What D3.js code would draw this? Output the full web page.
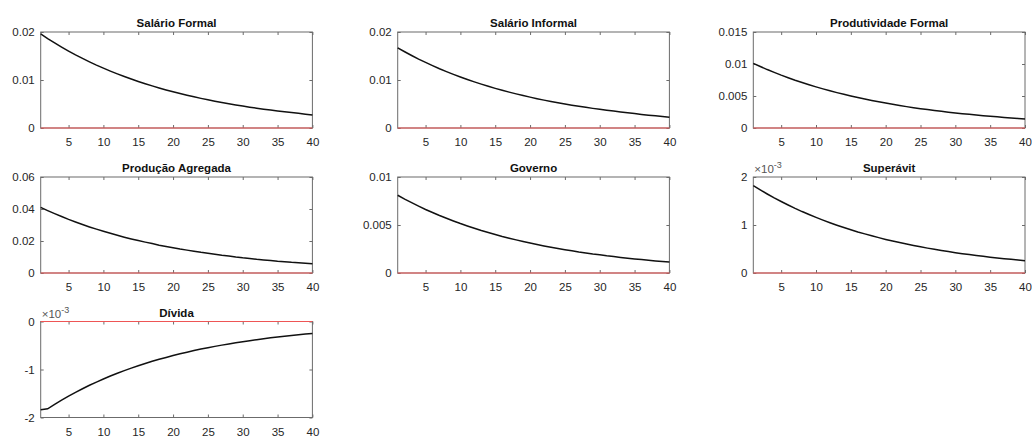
<!DOCTYPE html>
<html>
<head>
<meta charset="utf-8">
<script src="https://cdn.jsdelivr.net/npm/d3@7"></script>
<style>
  html, body { margin: 0; padding: 0; background: #fff; }
  svg { display: block; font-family: "Liberation Sans", Arial, sans-serif; }
</style>
</head>
<body>
<svg id="chart" width="1032" height="438"></svg>
<script>
// horizon 1..40
const periods = d3.range(1, 41);

// impulse responses
const salarioFormal = [0.01960, 0.01864, 0.01773, 0.01686, 0.01603, 0.01524, 0.01450, 0.01379, 0.01311, 0.01247,
  0.01186, 0.01128, 0.01073, 0.01020, 0.00970, 0.00922, 0.00877, 0.00834, 0.00793, 0.00754,
  0.00718, 0.00682, 0.00649, 0.00617, 0.00587, 0.00558, 0.00531, 0.00505, 0.00480, 0.00456,
  0.00434, 0.00413, 0.00393, 0.00373, 0.00355, 0.00338, 0.00321, 0.00305, 0.00288, 0.00270];
const salarioInformal = [0.01670, 0.01588, 0.01510, 0.01436, 0.01366, 0.01299, 0.01235, 0.01175, 0.01117, 0.01062,
  0.01010, 0.00961, 0.00914, 0.00869, 0.00826, 0.00786, 0.00747, 0.00711, 0.00676, 0.00643,
  0.00611, 0.00581, 0.00553, 0.00526, 0.00500, 0.00475, 0.00452, 0.00430, 0.00409, 0.00389,
  0.00370, 0.00352, 0.00335, 0.00318, 0.00300, 0.00283, 0.00268, 0.00253, 0.00238, 0.00225];
const produtividadeFormal = [0.01010, 0.00961, 0.00913, 0.00869, 0.00826, 0.00786, 0.00747, 0.00711, 0.00676, 0.00643,
  0.00611, 0.00581, 0.00553, 0.00526, 0.00500, 0.00475, 0.00452, 0.00430, 0.00409, 0.00389,
  0.00370, 0.00352, 0.00334, 0.00318, 0.00302, 0.00288, 0.00274, 0.00260, 0.00247, 0.00235,
  0.00224, 0.00213, 0.00202, 0.00192, 0.00183, 0.00174, 0.00165, 0.00157, 0.00150, 0.00142];
const producaoAgregada = [0.0410, 0.0390, 0.0371, 0.0353, 0.0335, 0.0319, 0.0303, 0.0288, 0.0274, 0.0261,
  0.0248, 0.0236, 0.0224, 0.0213, 0.0203, 0.0193, 0.0184, 0.0174, 0.0166, 0.0158,
  0.0150, 0.0143, 0.0136, 0.0129, 0.0123, 0.0117, 0.0111, 0.0106, 0.0100, 0.0095,
  0.0091, 0.0086, 0.0082, 0.0078, 0.0074, 0.0071, 0.0067, 0.0064, 0.0061, 0.0058];
const governo = [0.00810, 0.00770, 0.00733, 0.00697, 0.00662, 0.00630, 0.00599, 0.00570, 0.00542, 0.00515,
  0.00490, 0.00466, 0.00443, 0.00422, 0.00401, 0.00381, 0.00363, 0.00345, 0.00328, 0.00312,
  0.00297, 0.00282, 0.00268, 0.00255, 0.00243, 0.00231, 0.00219, 0.00209, 0.00198, 0.00189,
  0.00179, 0.00171, 0.00162, 0.00154, 0.00147, 0.00140, 0.00133, 0.00126, 0.00120, 0.00114];
const superavit = [0.001820, 0.001731, 0.001646, 0.001565, 0.001489, 0.001416, 0.001346, 0.001280, 0.001218, 0.001158,
  0.001101, 0.001047, 0.000996, 0.000947, 0.000901, 0.000856, 0.000815, 0.000775, 0.000737, 0.000700,
  0.000666, 0.000634, 0.000603, 0.000573, 0.000545, 0.000518, 0.000493, 0.000469, 0.000446, 0.000424,
  0.000403, 0.000383, 0.000365, 0.000347, 0.000330, 0.000314, 0.000298, 0.000284, 0.000270, 0.000256];
const divida = [-0.001840, -0.001820, -0.001727, -0.001639, -0.001556, -0.001476, -0.001401, -0.001329, -0.001262, -0.001197,
  -0.001136, -0.001078, -0.001023, -0.000971, -0.000922, -0.000875, -0.000830, -0.000788, -0.000748, -0.000709,
  -0.000673, -0.000639, -0.000606, -0.000575, -0.000546, -0.000518, -0.000492, -0.000467, -0.000443, -0.000420,
  -0.000399, -0.000379, -0.000359, -0.000341, -0.000323, -0.000307, -0.000291, -0.000276, -0.000262, -0.000249];

const xTicks = [5, 10, 15, 20, 25, 30, 35, 40];

const panels = [
  { title: "Salário Formal", values: salarioFormal, yDomain: [0, 0.02], yTicks: [0, 0.01, 0.02] },
  { title: "Salário Informal", values: salarioInformal, yDomain: [0, 0.02], yTicks: [0, 0.01, 0.02] },
  { title: "Produtividade Formal", values: produtividadeFormal, yDomain: [0, 0.015], yTicks: [0, 0.005, 0.01, 0.015] },
  { title: "Produção Agregada", values: producaoAgregada, yDomain: [0, 0.06], yTicks: [0, 0.02, 0.04, 0.06] },
  { title: "Governo", values: governo, yDomain: [0, 0.01], yTicks: [0, 0.005, 0.01] },
  { title: "Superávit", values: superavit, yDomain: [0, 0.002], yTicks: [0, 0.001, 0.002], exp: -3 },
  { title: "Dívida", values: divida, yDomain: [-0.002, 0], yTicks: [-0.002, -0.001, 0], exp: -3 },
];

const colLeft = [40.7, 397.7, 753.3];
const rowTop = [32, 177, 321.5];
const plotW = 271.7;
const plotH = 96;
const tickLen = 3;
const axisColor = "#6b6b6b";
const textColor = "#262626";

// matlab prints a plain hyphen for negatives
const locale = d3.formatLocale({ decimal: ".", thousands: ",", grouping: [3], currency: ["", ""], minus: "-" });

const svg = d3.select("#chart");

panels.forEach((p, i) => {
  const g = svg.append("g")
    .attr("transform", `translate(${colLeft[i % 3]},${rowTop[Math.floor(i / 3)]})`);

  const x = d3.scaleLinear().domain([1, 40]).range([0, plotW]);
  const y = d3.scaleLinear().domain(p.yDomain).range([plotH, 0]);
  const scale = p.exp ? Math.pow(10, -p.exp) : 1;
  const fmt = (d) => locale.format("~g")(+(d * scale).toPrecision(6));

  // box
  g.append("rect")
    .attr("width", plotW).attr("height", plotH)
    .attr("fill", "none").attr("stroke", axisColor).attr("stroke-width", 1);

  const styleAxis = (a) => {
    a.select(".domain").remove();
    a.selectAll(".tick line").attr("stroke", axisColor);
    a.selectAll(".tick text").attr("fill", textColor).attr("font-size", 11.5);
  };

  g.append("g").attr("transform", `translate(0,${plotH})`)
    .call(d3.axisBottom(x).tickValues(xTicks).tickSize(-tickLen).tickPadding(10))
    .call(styleAxis);
  g.append("g")
    .call(d3.axisTop(x).tickValues(xTicks).tickSize(-tickLen).tickFormat(""))
    .call(styleAxis);
  g.append("g")
    .call(d3.axisLeft(y).tickValues(p.yTicks).tickSize(-tickLen).tickPadding(6).tickFormat(fmt))
    .call(styleAxis);
  g.append("g").attr("transform", `translate(${plotW},0)`)
    .call(d3.axisRight(y).tickValues(p.yTicks).tickSize(-tickLen).tickFormat(""))
    .call(styleAxis);

  // curve
  g.append("path")
    .datum(p.values)
    .attr("fill", "none")
    .attr("stroke", "#111")
    .attr("stroke-width", 1.5)
    .attr("d", d3.line().x((d, k) => x(periods[k])).y((d) => y(d)));

  // zero line
  g.append("path")
    .datum(periods)
    .attr("fill", "none")
    .attr("stroke", "#ee5555")
    .attr("stroke-width", 1.2)
    .attr("d", d3.line().x((d) => x(d)).y(() => y(0)));

  g.append("text")
    .attr("x", plotW / 2).attr("y", -5)
    .attr("text-anchor", "middle")
    .attr("font-size", 11.5).attr("font-weight", "bold")
    .attr("fill", "#111")
    .text(p.title);

  if (p.exp) {
    const t = g.append("text")
      .attr("x", 1).attr("y", -4)
      .attr("font-size", 11.5).attr("fill", "#555");
    t.append("tspan").text("×10");
    t.append("tspan").attr("dy", -5).attr("font-size", 9).text(p.exp);
  }
});
</script>
</body>
</html>
